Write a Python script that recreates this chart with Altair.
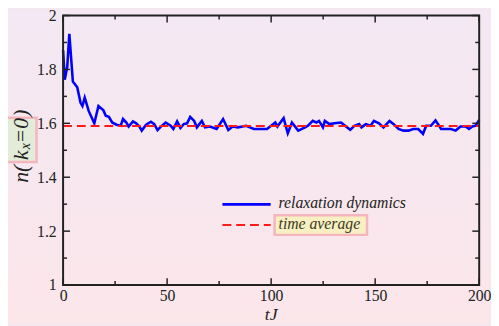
import altair as alt
import pandas as pd

# ---- data ----
t_vals = [0, 0.8, 2, 3, 4.7, 6.8, 8.4, 9.3, 10.4, 12.3, 15, 17, 19.4, 20.5, 22, 23.6,
          25.7, 27.7, 28.8, 30.4, 31.5, 33.6, 35.1, 36.7, 37.8, 39.9, 42.2, 43.8, 45.4,
          47, 49.3, 51.7, 53, 54.8, 56.4, 58, 59.6, 61.1, 63, 64.3, 66.7, 68.2, 70.6,
          73.8, 76.9, 79.4, 81.5, 84, 86.3, 88, 91.7, 93.5, 96, 98, 102, 103, 106, 108,
          110, 113, 116.3, 117.7, 120, 121.7, 123, 124.9, 125.8, 128, 130.5, 133.6, 136,
          138, 140, 142.3, 143.4, 145.5, 147.8, 149.4, 151.8, 154, 156.9, 158.9, 161.2,
          163.6, 166, 168.3, 170.7, 173, 174.5, 176.8, 179, 181.7, 184, 186.4, 188.7,
          191, 193.4, 195.1, 196.7, 198.3, 200]
n_vals = [1.871, 1.762, 1.810, 1.932, 1.755, 1.734, 1.676, 1.664, 1.695, 1.646, 1.600,
          1.664, 1.648, 1.628, 1.624, 1.603, 1.595, 1.591, 1.616, 1.603, 1.588, 1.607,
          1.600, 1.588, 1.573, 1.595, 1.606, 1.597, 1.575, 1.588, 1.603, 1.591, 1.579,
          1.607, 1.583, 1.597, 1.600, 1.624, 1.609, 1.585, 1.609, 1.585, 1.588, 1.579,
          1.616, 1.575, 1.588, 1.585, 1.588, 1.591, 1.579, 1.579, 1.579, 1.579, 1.603,
          1.588, 1.619, 1.563, 1.603, 1.573, 1.585, 1.591, 1.609, 1.603, 1.609, 1.585,
          1.609, 1.597, 1.600, 1.603, 1.588, 1.576, 1.591, 1.597, 1.585, 1.597, 1.591,
          1.609, 1.600, 1.585, 1.609, 1.597, 1.579, 1.573, 1.573, 1.579, 1.579, 1.561,
          1.591, 1.591, 1.611, 1.579, 1.579, 1.579, 1.573, 1.588, 1.588, 1.579, 1.588,
          1.591, 1.613]
avg_t = [0, 200]
avg_n = [1.59, 1.59]

x_major = [0, 50, 100, 150, 200]
x_minor = [25, 75, 125, 175]
y_major = [1.0, 1.2, 1.4, 1.6, 1.8, 2.0]
y_minor = [1.1, 1.3, 1.5, 1.7, 1.9]

legend_labels = ["relaxation dynamics", "time average"]
x_title = "tJ"
y_title_parts = ["n(", "k", "x", "=0", ")"]

W, H = 423, 274
SERIF = "Liberation Serif"
INK = "#222222"

xs = alt.Scale(domain=[0, 200], nice=False, zero=False)
ys = alt.Scale(domain=[1, 2], nice=False, zero=False)

df = pd.DataFrame({"t": t_vals, "n": n_vals})
df_avg = pd.DataFrame({"t": avg_t, "n": avg_n})
one = pd.DataFrame({"a": [0]})

bg = alt.Chart(one).mark_rect(
    color=alt.Gradient(
        gradient="linear",
        stops=[alt.GradientStop(color="#f3e8f3", offset=0),
               alt.GradientStop(color="#fbe6ea", offset=1)],
        x1=0, x2=0, y1=0, y2=1),
).encode(x=alt.value(-56), x2=alt.value(W + 12), y=alt.value(-5), y2=alt.value(H + 39))

frame = alt.Chart(one).mark_rect(fill=None, stroke=INK, strokeWidth=2).encode(
    x=alt.value(0), x2=alt.value(W), y=alt.value(0), y2=alt.value(H))

line = alt.Chart(df).mark_line(color="#0000ff", strokeWidth=2.6).encode(
    x=alt.X("t:Q", scale=xs, axis=alt.Axis(
        values=x_major, ticks=False, domain=False, grid=False, title=None, zindex=1,
        labelFont=SERIF, labelFontSize=16, labelColor=INK, labelPadding=3, labelFlush=False)),
    y=alt.Y("n:Q", scale=ys, axis=alt.Axis(
        values=y_major, ticks=False, domain=False, grid=False, title=None, format="~g", zindex=1,
        labelFont=SERIF, labelFontSize=16, labelColor=INK, labelPadding=7, labelFlush=False)),
)

avg = alt.Chart(df_avg).mark_line(color="#ff1a1a", strokeWidth=2, strokeDash=[9, 5]).encode(
    x=alt.X("t:Q", scale=xs), y=alt.Y("n:Q", scale=ys))


def xticks(vals, size):
    d = pd.DataFrame({"t": vals})
    b = alt.Chart(d).mark_rule(color=INK, strokeWidth=1.5).encode(
        x=alt.X("t:Q", scale=xs), y=alt.value(H), y2=alt.value(H - size))
    t = alt.Chart(d).mark_rule(color=INK, strokeWidth=1.5).encode(
        x=alt.X("t:Q", scale=xs), y=alt.value(0), y2=alt.value(size))
    return [b, t]


def yticks(vals, size):
    d = pd.DataFrame({"n": vals})
    l = alt.Chart(d).mark_rule(color=INK, strokeWidth=1.5).encode(
        y=alt.Y("n:Q", scale=ys), x=alt.value(0), x2=alt.value(size))
    r = alt.Chart(d).mark_rule(color=INK, strokeWidth=1.5).encode(
        y=alt.Y("n:Q", scale=ys), x=alt.value(W), x2=alt.value(W - size))
    return [l, r]


def ypiece(s, ystart, size, dx=0):
    return alt.Chart(pd.DataFrame({"s": [s]})).mark_text(
        angle=270, font=SERIF, fontStyle="italic", fontSize=size, color=INK,
        align="left", baseline="middle").encode(
        text="s:N", x=alt.value(-43 + dx), y=alt.value(ystart))


ybox = alt.Chart(one).mark_rect(fill="#e3ecd9", stroke="#f5b5be", strokeWidth=2.5).encode(
    x=alt.value(-59), x2=alt.value(-27), y=alt.value(104), y2=alt.value(149))
ytitle = [
    ypiece(y_title_parts[0], 170, 22),
    ypiece(y_title_parts[1], 147, 22),
    ypiece(y_title_parts[2], 136, 14, dx=5),
    ypiece(y_title_parts[3], 130, 22),
    ypiece(y_title_parts[4], 103, 22),
]
xtext = alt.Chart(pd.DataFrame({"s": [x_title]})).mark_text(
    font=SERIF, fontStyle="italic", fontSize=18, color=INK,
    align="center", baseline="top").encode(
    text="s:N", x=alt.value(W / 2), y=alt.value(H + 22))

leg_blue = alt.Chart(one).mark_rule(color="#0000ff", strokeWidth=2.6).encode(
    x=alt.value(162), x2=alt.value(211), y=alt.value(192))
leg_red = alt.Chart(one).mark_rule(color="#ff1a1a", strokeWidth=2, strokeDash=[9, 5]).encode(
    x=alt.value(162), x2=alt.value(211), y=alt.value(213))
leg_box = alt.Chart(one).mark_rect(fill="#f8efc2", stroke="#f5b5be", strokeWidth=2.5).encode(
    x=alt.value(215), x2=alt.value(309), y=alt.value(203), y2=alt.value(223))
leg_t1 = alt.Chart(pd.DataFrame({"s": [legend_labels[0]]})).mark_text(
    font=SERIF, fontStyle="italic", fontSize=16, color=INK, align="left", baseline="middle").encode(
    text="s:N", x=alt.value(219), y=alt.value(191))
leg_t2 = alt.Chart(pd.DataFrame({"s": [legend_labels[1]]})).mark_text(
    font=SERIF, fontStyle="italic", fontSize=16, color="#3a3a22", align="left", baseline="middle").encode(
    text="s:N", x=alt.value(219), y=alt.value(212))

layers = [bg, line, avg, frame] + xticks(x_major, 7) + xticks(x_minor, 4) + \
    yticks(y_major, 7) + yticks(y_minor, 4) + \
    [ybox] + ytitle + [xtext, leg_box, leg_blue, leg_red, leg_t1, leg_t2]

chart = alt.layer(*layers).properties(
    width=W, height=H,
    autosize=alt.AutoSizeParams(type="none"),
    padding={"left": 56, "top": 5, "right": 12, "bottom": 39},
    background="#f5e7ef",
).configure_view(strokeWidth=0)

chart.save("out.html", embed_options={"renderer": "svg", "actions": False})
